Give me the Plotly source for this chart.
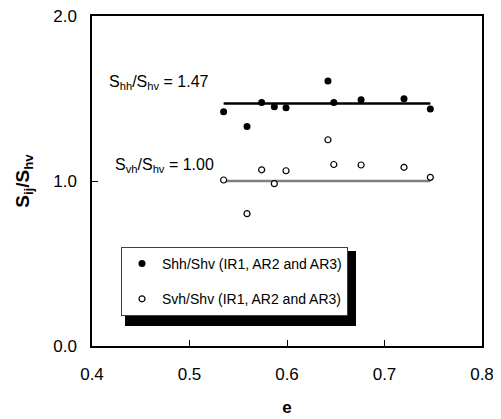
import plotly.graph_objects as go

# Data
e_vals = [0.535, 0.559, 0.574, 0.587, 0.599, 0.642, 0.648, 0.676, 0.720, 0.747]
shh_shv = [1.42, 1.33, 1.475, 1.45, 1.444, 1.606, 1.475, 1.493, 1.499, 1.436]
svh_shv = [1.006, 0.802, 1.068, 0.984, 1.062, 1.25, 1.10, 1.097, 1.083, 1.022]
hh_ratio = 1.47
vh_ratio = 1.00
x_ticks = [0.4, 0.5, 0.6, 0.7, 0.8]
y_ticks = [0.0, 1.0, 2.0]

FONT = "Arial, 'Liberation Sans', sans-serif"

fig = go.Figure()

x_line = [min(e_vals), max(e_vals)]
fig.add_trace(go.Scatter(x=x_line, y=[hh_ratio, hh_ratio], mode="lines",
                         line=dict(color="black", width=2.5), showlegend=False,
                         hoverinfo="skip"))
fig.add_trace(go.Scatter(x=x_line, y=[vh_ratio, vh_ratio], mode="lines",
                         line=dict(color="#808080", width=2.5), showlegend=False,
                         hoverinfo="skip"))

fig.add_trace(go.Scatter(x=e_vals, y=shh_shv, mode="markers",
                         name="Shh/Shv (IR1, AR2 and AR3)",
                         legendgroup="a",
                         marker=dict(symbol="circle", size=7, color="black")))
fig.add_trace(go.Scatter(x=e_vals, y=svh_shv, mode="markers",
                         name="Svh/Shv (IR1, AR2 and AR3)",
                         legendgroup="b",
                         marker=dict(symbol="circle", size=6, color="white",
                                     line=dict(color="black", width=1.2))))

axis_common = dict(showline=True, linecolor="black", linewidth=1.5, mirror=True,
                   ticks="inside", ticklen=6, tickcolor="black", showgrid=False,
                   zeroline=False, automargin=False, ticklabeloverflow="allow",
                   tickfont=dict(size=17, color="black", family=FONT))

fig.update_xaxes(range=[0.4, 0.8], tickvals=x_ticks,
                 ticktext=[f"{v:.1f}" for v in x_ticks],
                 ticklabelstandoff=12,
                 title=dict(text="<b>e</b>", font=dict(size=17, family=FONT, color="black"),
                            standoff=18),
                 **axis_common)
fig.update_yaxes(range=[0, 2.0], tickvals=y_ticks,
                 ticktext=[f"{v:.1f}" for v in y_ticks],
                 ticklabelstandoff=10,
                 title=dict(text="<b>S<sub>ij</sub>/S<sub>hv</sub></b>",
                            font=dict(size=19, family=FONT, color="black"), standoff=19),
                 **axis_common)

fig.add_annotation(x=0.415, y=1.6, xref="x", yref="y", xanchor="left", yanchor="middle",
                   text=f"S<sub>hh</sub>/S<sub>hv</sub> = {hh_ratio:.2f}", showarrow=False,
                   font=dict(size=16, family=FONT, color="black"))
fig.add_annotation(x=0.4215, y=1.097, xref="x", yref="y", xanchor="left", yanchor="middle",
                   text=f"S<sub>vh</sub>/S<sub>hv</sub> = {vh_ratio:.2f}", showarrow=False,
                   font=dict(size=16, family=FONT, color="black"))

# legend shadow
fig.add_shape(type="rect", xref="paper", yref="paper",
              x0=(125 - 92) / 390, x1=(356 - 92) / 390,
              y0=(346 - 326) / 330, y1=(346 - 251) / 330,
              fillcolor="black", line=dict(width=0), layer="above")

fig.update_layout(
    width=493, height=411,
    margin=dict(l=84, r=19, t=8, b=73, autoexpand=False),
    paper_bgcolor="white", plot_bgcolor="white",
    font=dict(family=FONT, color="black", size=16),
    legend=dict(x=(121 - 92) / 390, y=(346 - 247) / 330, xanchor="left", yanchor="top",
                bgcolor="white", bordercolor="#404040", borderwidth=1,
                font=dict(size=14, family=FONT, color="black"),
                itemwidth=30, tracegroupgap=14, traceorder="grouped"),
)

fig.write_html("out.html")
